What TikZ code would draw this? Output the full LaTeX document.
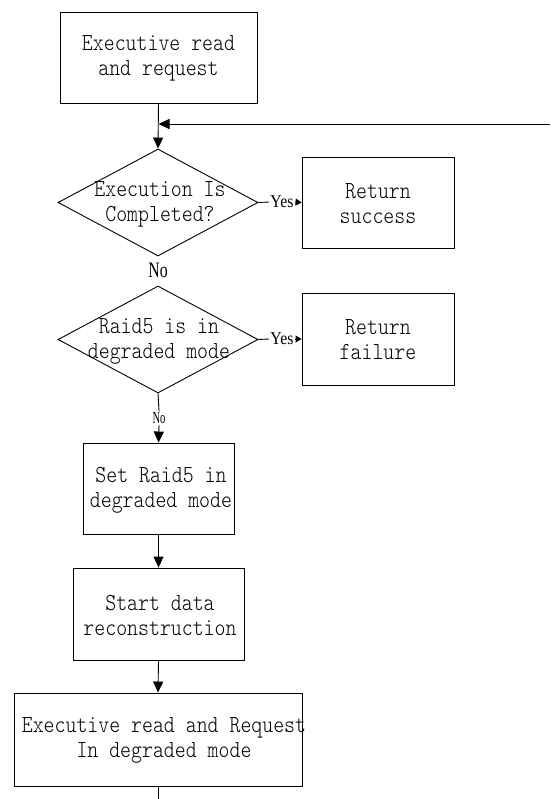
\documentclass[tikz,border=0pt]{standalone}
\usepackage{fontspec}
\usetikzlibrary{shapes.geometric,arrows.meta}
\newfontfamily\boxfont{lmmonolt10-regular.otf}[FakeStretch=0.85]
\newfontfamily\nofont{Liberation Serif}[FakeStretch=0.72]
\newfontfamily\nofontb{Liberation Serif}[FakeStretch=0.62]
\newfontfamily\yesfont{Liberation Serif}[FakeStretch=0.88]
\begin{document}
\begin{tikzpicture}[x=1pt,y=-1pt,line width=0.9pt,
  box/.style={draw,rectangle,inner sep=0pt},
  dia/.style={draw,diamond,inner sep=0pt,minimum width=200pt,minimum height=107pt},
  txt/.style={align=center,inner sep=0pt,font=\boxfont\fontsize{24.5}{25}\selectfont},
  arr/.style={-{Triangle[length=11pt,width=10pt]}},
  sarr/.style={-{Triangle[length=6pt,width=7pt]}},
  ylbl/.style={inner sep=0.8pt,font=\yesfont\fontsize{18}{18}\selectfont},
  nlbl/.style={inner sep=0.8pt,font=\nofont\fontsize{22}{22}\selectfont},
  nlblb/.style={inner sep=0.8pt,font=\nofontb\fontsize{17}{17}\selectfont}]
\useasboundingbox (0,0) rectangle (550,799);
% shapes
\node[box,minimum width=197pt,minimum height=91pt] (b1) at (158.5,57.5) {};
\node[txt] (t1) at (158.5,58) {Executive read\\and request};
\node[dia] (d1) at (158,202.5) {};
\node[txt] (td1) at (160,204) {Execution Is\\Completed?};
\node[box,minimum width=152pt,minimum height=91pt] (rs) at (378,202.5) {};
\node[txt] (trs) at (378,204) {Return\\success};
\node[nlbl] (n1) at (158,270) {No};
\node[dia] (d2) at (158,339.5) {};
\node[txt] (td2) at (159,341) {Raid5 is in\\degraded mode};
\node[box,minimum width=152pt,minimum height=92pt] (rf) at (378,339) {};
\node[txt] (trf) at (378,340) {Return\\failure};
\node[nlblb] (n2) at (159,418) {No};
\node[box,minimum width=151pt,minimum height=91pt] (b3) at (158.5,488.5) {};
\node[txt] (t3) at (161,490) {Set Raid5 in\\degraded mode};
\node[box,minimum width=171pt,minimum height=92pt] (b4) at (158.5,614) {};
\node[txt] (t4) at (160,615) {Start data\\reconstruction};
\node[box,minimum width=288pt,minimum height=93pt] (b5) at (158,739.5) {};
\node[txt] (t5) at (164,740) {Executive read and Request\\In degraded mode};
\node[ylbl] (y1) at (282,202) {Yes};
\node[ylbl] (y2) at (282,339) {Yes};
% connectors
\coordinate (fb) at (550,124);
\coordinate (j) at (b1.south |- fb);
\coordinate (end) at (158,799);
\draw[arr] (b1.south) -- (d1.north);
\draw[arr] (fb) -- (j);
\draw (d1.east) -- (y1.west);
\draw[sarr] (y1.east) -- (rs.west);
\draw (d2.east) -- (y2.west);
\draw[sarr] (y2.east) -- (rf.west);
\draw (d2.south) -- (n2.north);
\draw[arr] (n2.south) -- (b3.north);
\draw[arr] (b3.south) -- (b4.north);
\draw[arr] (b4.south) -- (b5.north);
\draw (b5.south) -- (end);
\end{tikzpicture}
\end{document}
